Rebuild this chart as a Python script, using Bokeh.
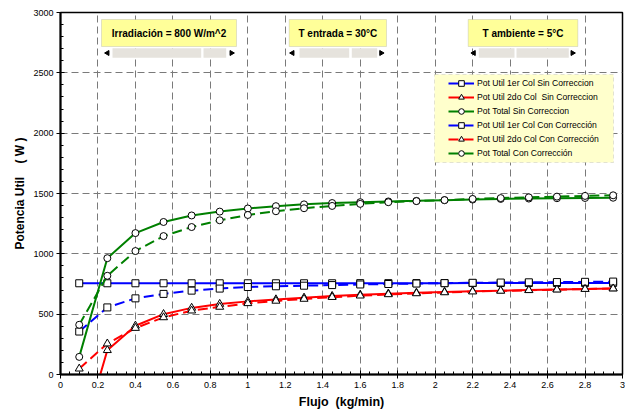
from math import pi

from bokeh.plotting import figure
from bokeh.models import (FixedTicker, NumeralTickFormatter, Legend, LegendItem,
                          BoxAnnotation, Label)
from bokeh.embed import file_html
from bokeh.resources import INLINE

# Mass flow through the collectors (kg/min)
flujo = [0.1, 0.25, 0.4, 0.55, 0.7, 0.85, 1.0, 1.15, 1.3, 1.45,
         1.6, 1.75, 1.9, 2.05, 2.2, 2.35, 2.5, 2.65, 2.8, 2.95]

# Useful power (W) without correction
col1_sin = [756, 756, 756, 756, 756, 756, 756, 756, 756, 756,
            757, 757, 757, 757, 758, 758, 758, 758, 759, 759]
col2_sin = [-600, 201, 404, 500, 552, 584, 606, 622, 636, 650,
            661, 670, 677, 684, 690, 695, 700, 705, 709, 713]
total_sin = [146, 964, 1172, 1264, 1318, 1350, 1376, 1395, 1410, 1421,
             1428, 1434, 1439, 1445, 1450, 1455, 1458, 1461, 1463, 1465]

# Useful power (W) with correction
col1_con = [356, 556, 631, 668, 695, 712, 725, 731, 736, 741,
            746, 750, 754, 757, 760, 762, 764, 766, 768, 770]
col2_con = [48, 256, 385, 473, 529, 560, 590, 610, 626, 641,
            653, 664, 672, 680, 687, 693, 698, 703, 708, 712]
total_con = [412, 818, 1023, 1147, 1222, 1278, 1322, 1353, 1378, 1397,
             1414, 1428, 1437, 1445, 1455, 1462, 1468, 1474, 1480, 1485]

series = [
    ("Pot Util 1er Col Sin Correccion", col1_sin, "#0000ff", "solid", "square"),
    ("Pot Util 2do Col  Sin Correccion", col2_sin, "#ff0000", "solid", "triangle"),
    ("Pot Total Sin Correccion", total_sin, "#008000", "solid", "circle"),
    ("Pot Util 1er Col Con Corrección", col1_con, "#0000ff", "10 5", "square"),
    ("Pot Util 2do Col Con Corrección", col2_con, "#ff0000", "10 5", "triangle"),
    ("Pot Total Con Corrección", total_con, "#008000", "10 5", "circle"),
]

x_ticks = [0, 0.2, 0.4, 0.6, 0.8, 1, 1.2, 1.4, 1.6, 1.8, 2, 2.2, 2.4, 2.6, 2.8, 3]
y_ticks = [0, 500, 1000, 1500, 2000, 2500, 3000]

panels = [
    ("Irradiación = 800 W/m^2", 101, 236, (112, 200.7), (203, 225.7), 107, 231),
    ("T entrada = 30°C", 288.7, 386, (299, 348.7), (351.3, 376.7), 292, 380.7),
    ("T ambiente = 5°C", 467.7, 577.3, (478.3, 514), (516, 568.3), 473.3, 572),
]

FONT = "Liberation Sans"
FRAME_L, FRAME_R, FRAME_T, FRAME_B = 60, 622, 12, 374


def fx(px):
    """Canvas x pixel -> data x."""
    return (px - FRAME_L) / (FRAME_R - FRAME_L) * 3.0


def fy(py):
    """Canvas y pixel -> data y."""
    return (FRAME_B - py) / (FRAME_B - FRAME_T) * 3000.0


p = figure(width=625, height=415, x_range=(0, 3), y_range=(0, 3000),
           output_backend="svg", toolbar_location=None,
           min_border_left=FRAME_L, min_border_right=625 - FRAME_R,
           min_border_top=FRAME_T, min_border_bottom=415 - FRAME_B,
           background_fill_color="white", border_fill_color="white")
p.outline_line_color = "black"
p.outline_line_width = 1.5

# axes
p.xaxis.ticker = FixedTicker(ticks=x_ticks,
                             minor_ticks=[round(0.05 * i, 2) for i in range(61)])
p.yaxis.ticker = FixedTicker(ticks=y_ticks,
                             minor_ticks=list(range(0, 3001, 100)))
p.xaxis.formatter = NumeralTickFormatter(format="0.[0]")
p.yaxis.formatter = NumeralTickFormatter(format="0")
for ax in (p.xaxis, p.yaxis):
    ax.axis_line_color = "black"
    ax.axis_line_width = 2
    ax.major_tick_line_color = "black"
    ax.minor_tick_line_color = "black"
    ax.major_tick_in = 4
    ax.major_tick_out = 4
    ax.minor_tick_in = 3
    ax.minor_tick_out = 0
    ax.major_label_text_font = FONT
    ax.major_label_text_font_size = "9px"
    ax.major_label_text_color = "black"
    ax.major_label_standoff = 3
    ax.axis_label_text_font = FONT
    ax.axis_label_text_font_style = "bold"
    ax.axis_label_text_color = "black"
p.xaxis.axis_label = "Flujo\u00a0\u00a0(kg/min)"
p.xaxis.axis_label_text_font_size = "12.5px"
p.xaxis.axis_label_standoff = 4
p.yaxis.axis_label = "Potencia Util\u00a0\u00a0\u00a0\u00a0( W )"
p.yaxis.axis_label_text_font_size = "12px"
p.yaxis.axis_label_standoff = 3

# dashed grid
p.xgrid.ticker = FixedTicker(ticks=x_ticks)
p.ygrid.ticker = FixedTicker(ticks=y_ticks)
for g in (p.xgrid, p.ygrid):
    g.grid_line_color = "#7a7a7a"
    g.grid_line_dash = "7 4"
    g.grid_line_width = 1

# data series
items = []
for label, vals, color, dash, marker in series:
    ln = p.line(flujo, vals, line_color=color, line_width=2, line_dash=dash)
    mk = p.scatter(flujo, vals, marker=marker, size=8 if marker == "triangle" else 7,
                   fill_color="white", line_color="black", line_width=1)
    items.append(LegendItem(label=label, renderers=[ln, mk]))

# legend panel
p.add_layout(BoxAnnotation(left=fx(434), right=fx(613), top=fy(74), bottom=fy(162),
                           fill_color="#ffffcc", fill_alpha=1,
                           line_color="#a0a0a0", line_dash="4 3", line_width=1))
legend = Legend(items=items, location=(445 - FRAME_L, FRAME_B - 163),
                label_text_font=FONT, label_text_font_size="8.6px",
                label_text_color="black", label_height=12, glyph_height=14,
                glyph_width=26, spacing=0, padding=3, margin=0, label_standoff=3,
                background_fill_alpha=0, border_line_alpha=0)
p.add_layout(legend)

# parameter panels with their slider bars
arrow_x, arrow_a = [], []
for text, left, right, bar1, bar2, al, ar in panels:
    p.add_layout(BoxAnnotation(left=fx(left), right=fx(right), top=fy(19), bottom=fy(46),
                               fill_color="#ffff99", fill_alpha=1,
                               line_color="#a0a0a0", line_width=1))
    for b in (bar1, bar2):
        p.add_layout(BoxAnnotation(left=fx(b[0]), right=fx(b[1]), top=fy(47.7),
                                   bottom=fy(57.3), fill_color="#e6e3dd",
                                   fill_alpha=1, line_alpha=0))
    p.add_layout(Label(x=fx((left + right) / 2), y=fy(32.5), text=text,
                       text_align="center", text_baseline="middle",
                       text_font=FONT, text_font_style="bold",
                       text_font_size="10px", text_color="black"))
    arrow_x += [fx(al), fx(ar)]
    arrow_a += [pi / 2, -pi / 2]

arrows = p.scatter(arrow_x, [fy(52.5)] * len(arrow_x), marker="triangle",
                   angle=arrow_a, size=5, fill_color="black", line_color="black")
arrows.level = "overlay"

open("out.html", "w").write(file_html(p, INLINE))
